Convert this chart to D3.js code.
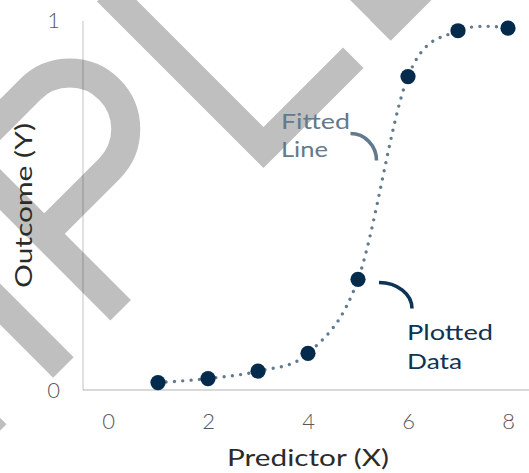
<!DOCTYPE html>
<meta charset="utf-8">
<style>
body { margin: 0; background: #fff; }
svg { display: block; }
text { font-family: Lato, "Open Sans", sans-serif; font-weight: 400; }
.tick text { font-size: 22px; fill: #595959; font-weight: 300; }
</style>
<body>
<script src="https://cdn.jsdelivr.net/npm/d3@7"></script>
<script>

// data
var xVals = [1, 2, 3, 4, 5, 6, 7, 8];
var yVals = [0.020, 0.031, 0.051, 0.099, 0.299, 0.847, 0.971, 0.978];
var xTicks = [0, 2, 4, 6, 8];
var yTicks = [0, 1];
var fittedLabel = ["Fitted", "Line"];
var plottedLabel = ["Plotted", "Data"];

var width = 529,
    height = 473;

var svg = d3.select("body").append("svg")
    .attr("width", width)
    .attr("height", height);

var x = d3.scaleLinear().domain([-0.5, 8.42]).range([83, 529]);
var y = d3.scaleLinear().domain([0, 1]).range([390, 20]);

/* ------- watermark (drawn under the chart) ------- */
var wm = svg.append("g")
    .attr("transform", "translate(263.5,147.5) rotate(-45)")
    .attr("fill", "none")
    .attr("stroke", "#bfbfbf")
    .attr("stroke-width", 29)
    .attr("stroke-linejoin", "miter");

// M
wm.append("path").attr("d", "M-392,14V-221L-344.5,-120L-297,-221V14");
// P
wm.append("path").attr("d", "M-216,14V-221");
wm.append("path").attr("d", "M-216,-206H-124A56,56 0 0 1 -124,-94H-216");
// L
wm.append("path").attr("d", "M0,-221V0H127");
// E
wm.append("path").attr("d", "M180,14V-221");
wm.append("path").attr("d", "M165.5,0H300M165.5,-206.5H300M165.5,-103H290");

/* ------- axes ------- */
svg.append("line")
    .attr("x1", x.range()[0]).attr("x2", x.range()[1])
    .attr("y1", y(0)).attr("y2", y(0))
    .attr("stroke", "rgba(0,0,0,0.15)")
    .attr("stroke-width", 2);

svg.append("line")
    .attr("x1", x.range()[0]).attr("x2", x.range()[0])
    .attr("y1", y(0)).attr("y2", y(1) + 1)
    .attr("stroke", "rgba(0,0,0,0.2)")
    .attr("stroke-width", 1.2);

var xAxis = svg.append("g")
    .attr("transform", "translate(0," + y(0) + ")")
    .call(d3.axisBottom(x).tickValues(xTicks).tickFormat(d3.format("d")).tickSize(0).tickPadding(23));
xAxis.select(".domain").remove();
xAxis.selectAll("text").attr("font-family", null);

var yAxis = svg.append("g")
    .attr("transform", "translate(" + x.range()[0] + ",0)")
    .call(d3.axisLeft(y).tickValues(yTicks).tickFormat(d3.format("d")).tickSize(0).tickPadding(23));
yAxis.select(".domain").remove();
yAxis.selectAll("text").attr("font-family", null);

svg.append("text")
    .attr("x", 227)
    .attr("y", 466)
    .attr("textLength", 162)
    .attr("lengthAdjust", "spacingAndGlyphs")
    .style("font-size", "24px")
    .style("fill", "#2b2b2b")
    .text("Predictor (X)");

svg.append("text")
    .attr("transform", "translate(32,288) rotate(-90)")
    .attr("textLength", 165)
    .attr("lengthAdjust", "spacingAndGlyphs")
    .style("font-size", "24px")
    .style("fill", "#2b2b2b")
    .text("Outcome (Y)");

/* ------- fitted line ------- */
var line = d3.line()
    .x(function(d, i) { return x(xVals[i]); })
    .y(function(d) { return y(d); })
    .curve(d3.curveCardinal.tension(0));

svg.append("path")
    .datum(yVals)
    .attr("d", line)
    .attr("fill", "none")
    .attr("stroke", "#62798e")
    .attr("stroke-width", 3.4)
    .attr("stroke-linecap", "round")
    .attr("stroke-dasharray", "0 8.3");

/* ------- points ------- */
svg.append("g").selectAll("circle")
    .data(yVals)
    .enter().append("circle")
    .attr("cx", function(d, i) { return x(xVals[i]); })
    .attr("cy", function(d) { return y(d); })
    .attr("r", 7.6)
    .attr("fill", "#052b4c");

/* ------- annotations ------- */
function label(lines, lx, ly, step, color, len) {
    svg.append("g").selectAll("text")
        .data(lines)
        .enter().append("text")
        .attr("x", lx)
        .attr("y", function(d, i) { return ly + i * step; })
        .attr("textLength", function(d, i) { return len[i]; })
        .attr("lengthAdjust", "spacingAndGlyphs")
        .style("font-size", "22px")
        .style("fill", color)
        .text(function(d) { return d; });
}

svg.append("path")
    .attr("d", "M350.5,133.5A26,27 0 0 1 376.5,160.5")
    .attr("fill", "none")
    .attr("stroke", "#62798e")
    .attr("stroke-width", 3.6);

label(fittedLabel, 281, 129, 28, "#62798e", [69, 47]);

svg.append("path")
    .attr("d", "M379,282.5A33,26 0 0 1 412,308.5")
    .attr("fill", "none")
    .attr("stroke", "#0d3355")
    .attr("stroke-width", 3.6);

label(plottedLabel, 407, 340, 29, "#0d3355", [86, 55]);

</script>
</body>
